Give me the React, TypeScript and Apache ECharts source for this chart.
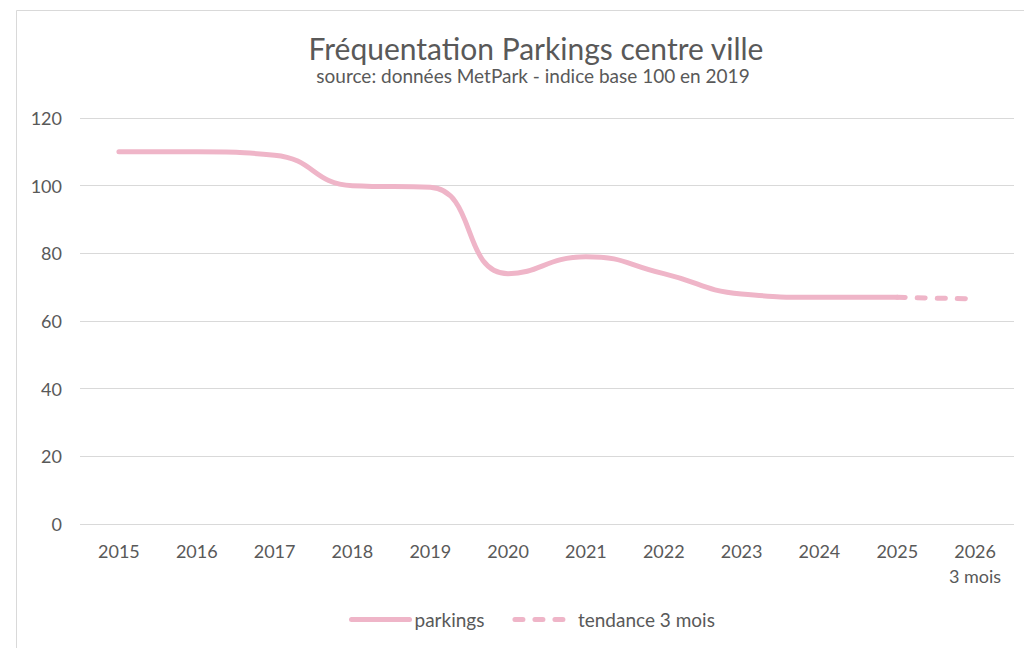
import React, { useEffect, useRef } from "react";
import * as echarts from "echarts";

const categories = ["2015", "2016", "2017", "2018", "2019", "2020", "2021", "2022", "2023", "2024", "2025", "2026\n3 mois"];
const parkings = [110, 110, 109, 100, 99.5, 74, 79, 74, 68, 67, 67, null];
const tendance = [null, null, null, null, null, null, null, null, null, null, 67, 66.5];
const yTicks = { min: 0, max: 120, interval: 20 };

const FONT = "Lato, 'Open Sans', sans-serif";
const PINK = "#efb5c8";
const TEXT = "#595959";

export default function App() {
  const ref = useRef<HTMLDivElement>(null);
  useEffect(() => {
    document.body.style.margin = "0";
    const chart = echarts.init(ref.current!, null, { renderer: "svg" });
    chart.setOption({
      animation: false,
      backgroundColor: "#ffffff",
      textStyle: { fontFamily: FONT },
      title: [
        {
          text: "Fréquentation Parkings centre ville",
          left: 531,
          textAlign: "center",
          top: 28,
          textStyle: { fontFamily: FONT, fontSize: 30, fontWeight: "normal", color: TEXT },
        },
        {
          text: "source: données MetPark - indice base 100 en 2019",
          left: 528,
          textAlign: "center",
          top: 61,
          textStyle: { fontFamily: FONT, fontSize: 19, fontWeight: "normal", color: TEXT },
        },
      ],
      graphic: [
        {
          type: "rect",
          shape: { x: 16.5, y: 10.5, width: 1030, height: 660 },
          style: { fill: "none", stroke: "#d9d9d9", lineWidth: 1 },
          silent: true,
          z: -10,
        },
      ],
      legend: {
        bottom: 14,
        left: 344,
        itemWidth: 58,
        itemHeight: 5,
        itemGap: 28,
        itemStyle: { opacity: 0 },
        lineStyle: { width: 5, cap: "round" },
        textStyle: { fontFamily: FONT, fontSize: 19, color: TEXT },
        data: ["parkings", "tendance 3 mois"],
      },
      grid: { left: 80, right: 10, top: 118, bottom: 124, containLabel: false },
      xAxis: {
        type: "category",
        data: categories,
        boundaryGap: true,
        axisLine: { show: false },
        axisTick: { show: false },
        axisLabel: { color: TEXT, fontSize: 18, fontFamily: FONT, margin: 14, lineHeight: 25 },
      },
      yAxis: {
        type: "value",
        min: yTicks.min,
        max: yTicks.max,
        interval: yTicks.interval,
        axisLine: { show: false },
        axisTick: { show: false },
        axisLabel: { color: TEXT, fontSize: 18, fontFamily: FONT, margin: 18 },
        splitLine: { lineStyle: { color: "#d9d9d9", width: 1 } },
      },
      series: [
        {
          name: "parkings",
          type: "line",
          data: parkings,
          smooth: 0.5,
          symbol: "none",
          connectNulls: false,
          lineStyle: { color: PINK, width: 5, cap: "round" },
          itemStyle: { color: PINK },
        },
        {
          name: "tendance 3 mois",
          type: "line",
          data: tendance,
          smooth: 0.5,
          symbol: "none",
          lineStyle: { color: PINK, width: 5, type: [8, 12], cap: "round" },
          itemStyle: { color: PINK },
        },
      ],
    });
    return () => chart.dispose();
  }, []);
  return <div ref={ref} style={{ width: 1024, height: 648 }} />;
}
